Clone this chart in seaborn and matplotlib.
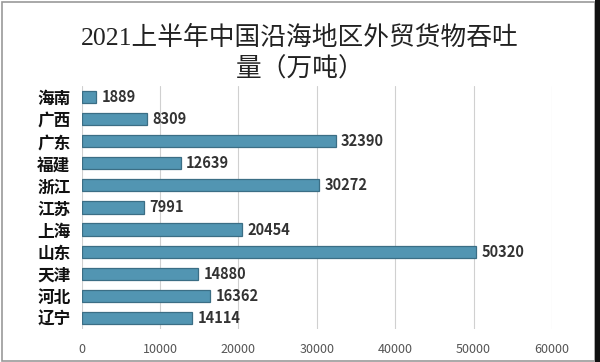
import matplotlib
matplotlib.use("Agg")
import matplotlib.pyplot as plt
import seaborn as sns
import pandas as pd
from matplotlib.patches import Rectangle

# data, top to bottom as in the chart
provinces = ["海南", "广西", "广东", "福建", "浙江", "江苏", "上海", "山东", "天津", "河北", "辽宁"]
volumes = [1889, 8309, 32390, 12639, 30272, 7991, 20454, 50320, 14880, 16362, 14114]
xticks = [0, 10000, 20000, 30000, 40000, 50000, 60000]
title = "2021上半年中国沿海地区外贸货物吞吐\n量（万吨）"

df = pd.DataFrame({"province": provinces, "volume": volumes})

sns.set_style("white")
plt.rcParams["font.family"] = ["Noto Sans CJK SC", "DejaVu Sans"]

fig = plt.figure(figsize=(6, 3.62), dpi=100)
ax = fig.add_axes([0.136, 0.091, 0.784, 0.672])

sns.barplot(data=df, x="volume", y="province", orient="h", color="#5295b2",
            saturation=1, width=0.55, ax=ax, zorder=3)
for p in ax.patches:
    p.set_edgecolor("#3b6e85")
    p.set_linewidth(0.9)

for i, v in enumerate(volumes):
    ax.text(v + 700, i, str(v), va="center", ha="left", fontsize=10.5,
            fontweight="bold", color="#333333", zorder=4)

ax.set_xlim(0, 60000)
ax.set_xticks(xticks)
ax.set_xticklabels([str(t) for t in xticks], fontsize=9, color="#555555")
ax.tick_params(axis="x", length=0, pad=10)
ax.tick_params(axis="y", length=0, pad=8)
for lbl in ax.get_yticklabels():
    lbl.set_fontsize(12)
    lbl.set_fontweight("bold")
    lbl.set_color("#111111")
ax.set_xlabel("")
ax.set_ylabel("")
ax.grid(axis="x", color="#d0d0d0", linewidth=0.8, zorder=0)
ax.set_axisbelow(True)
for s in ax.spines.values():
    s.set_visible(False)
ax.set_ylim(len(provinces) - 0.5, -0.5)

fig.text(0.5, 0.852, title, ha="center", va="center", fontsize=18.5,
         color="#222222", linespacing=1.4,
         family=["Liberation Serif", "Noto Sans CJK SC"])

# outer frame of the picture
fig.patches.append(Rectangle((0.004, 0.004), 0.988, 0.99, transform=fig.transFigure,
                             fill=False, edgecolor="#999999", linewidth=1.2))
fig.patches.append(Rectangle((0.991, 0.0), 0.009, 1.0, transform=fig.transFigure,
                             facecolor="#111111", edgecolor="none"))

fig.savefig("out.png", dpi=100)
